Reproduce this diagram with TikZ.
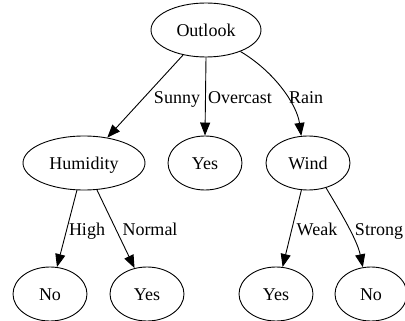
\documentclass[tikz,border=0pt]{standalone}
\usepackage{fontspec}
\setmainfont{Liberation Serif}
\usetikzlibrary{shapes.geometric,arrows.meta}
\begin{document}
\begin{tikzpicture}[x=1pt,y=-1pt,
  nd/.style={draw,ellipse,inner sep=0pt,minimum height=54pt,line width=0.9pt,
    text height=13pt,text depth=0pt,font=\fontsize{18}{22}\selectfont},
  lbl/.style={inner sep=0pt,anchor=base,font=\fontsize{18}{22}\selectfont},
  edge/.style={line width=0.9pt,-{Triangle[length=13pt,width=10pt]}}]
\useasboundingbox (0,0) rectangle (405,321);
% nodes
\node[nd,minimum width=110pt] (outlook) at (206,30) {Outlook};
\node[nd,minimum width=122pt] (hum) at (84,163) {Humidity};
\node[nd,minimum width=74pt] (yes1) at (205,163) {Yes};
\node[nd,minimum width=84pt] (wind) at (308,163) {Wind};
\node[nd,minimum width=74pt] (no1) at (50,294) {No};
\node[nd,minimum width=74pt] (yes2) at (147,294) {Yes};
\node[nd,minimum width=74pt] (yes3) at (276,294) {Yes};
\node[nd,minimum width=72pt] (no2) at (371,294) {No};
% edges
\draw[edge] (outlook) -- (hum);
\draw[edge] (outlook.south) -- (yes1.north);
\draw[edge] (outlook.-32) .. controls (275,72) and (297,105) .. (wind.104);
\draw[edge] (hum) -- (no1);
\draw[edge] (hum) -- (yes2);
\draw[edge] (wind) -- (yes3);
\draw[edge] (wind.-54) .. controls (338,208) and (357,239) .. (no2.107);
% labels
\node[lbl] (lsunny) at (177,103) {Sunny};
\node[lbl] (lover) at (240,103) {Overcast};
\node[lbl] (lrain) at (306,103) {Rain};
\node[lbl] (lhigh) at (87,236) {High};
\node[lbl] (lnormal) at (150,236) {Normal};
\node[lbl] (lweak) at (317,235.5) {Weak};
\node[lbl] (lstrong) at (379,235.5) {Strong};
\end{tikzpicture}
\end{document}
